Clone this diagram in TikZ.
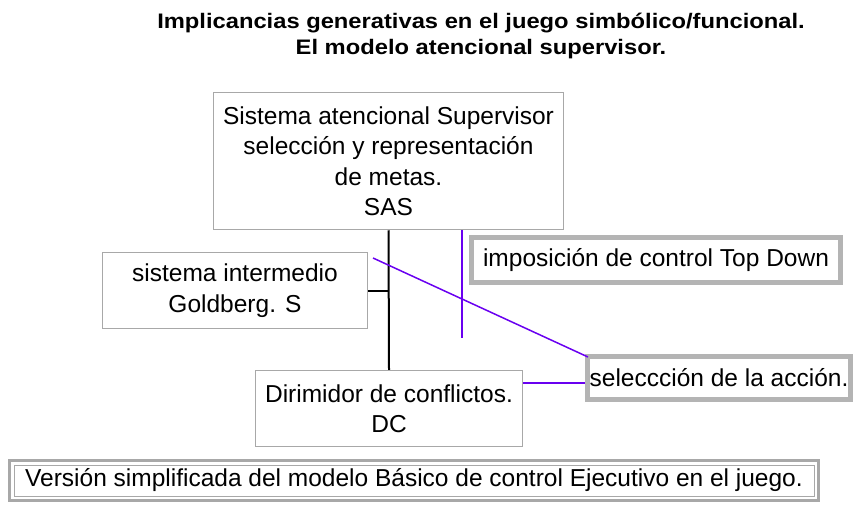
\documentclass[tikz,border=0pt]{standalone}
\usepackage{fontspec}
\setmainfont{Liberation Sans}
\newfontfamily\fuentetitulo[FakeStretch=1.13]{Liberation Sans}
\definecolor{borde}{RGB}{168,168,168}
\definecolor{bordegrueso}{RGB}{180,180,180}
\definecolor{violeta}{RGB}{105,0,240}
\tikzstyle{titulo} = [align=center, inner sep=0pt, font=\fuentetitulo\bfseries\fontsize{21}{26}\selectfont]
\tikzstyle{caja} = [rectangle, draw=borde, line width=1.5pt, fill=white, align=center, inner sep=0pt, font=\fontsize{24.5}{30.5}\selectfont]
\tikzstyle{nota} = [rectangle, draw=bordegrueso, line width=5pt, fill=white, align=center, inner sep=0pt, font=\fontsize{24.5}{30.5}\selectfont]
\tikzstyle{version} = [rectangle, draw=borde, line width=1pt, fill=white, align=center, inner sep=0pt, font=\fontsize{24.5}{28}\selectfont]
\tikzstyle{linea} = [draw, line width=2pt]
\tikzstyle{enlace} = [draw=violeta, line width=1.5pt]

\begin{document}
\begin{tikzpicture}[x=1pt, y=-1pt]
  \useasboundingbox (0,0) rectangle (856,506);
  \node [titulo] (tit) at (481,36) {Implicancias generativas en el juego simbólico/funcional.\\El modelo atencional supervisor.};
  \node [caja, minimum width=350, minimum height=137] (sas) at (388.5,161) {Sistema atencional Supervisor\\selección y representación\\de metas.\\SAS};
  \node [caja, minimum width=265, minimum height=76] (gold) at (235,290.5) {sistema intermedio\\Goldberg. S};
  \node [caja, minimum width=267, minimum height=76] (dc) at (389,408.5) {Dirimidor de conflictos.\\DC};
  \node [nota, minimum width=369, minimum height=45] (top) at (656,260) {imposición de control Top Down};
  \node [nota, minimum width=263, minimum height=43] (sel) at (719,378) {seleccción de la acción.};
  \node [version, minimum width=800, minimum height=31] (ver) at (414,480.5) {Versión simplificada del modelo Básico de control Ejecutivo en el juego.};
  \draw [draw=borde, line width=3pt] ([xshift=-4pt,yshift=4pt]ver.north west) rectangle ([xshift=4pt,yshift=-4pt]ver.south east);
  \coordinate (tdfin) at (462,338);
  \coordinate (diag) at (373,258);
  \coordinate (selin) at ([yshift=-5pt]sel.west);
  \path [linea] (sas.south) -- (dc.north);
  \path [linea] (gold.east) -- (gold.east -| sas.south);
  \path [enlace] (sas.south -| tdfin) -- (tdfin);
  \path [enlace] (diag) -- ([xshift=3pt,yshift=-3pt]sel.north west);
  \path [enlace] (dc.east |- selin) -- (selin);
\end{tikzpicture}
\end{document}
